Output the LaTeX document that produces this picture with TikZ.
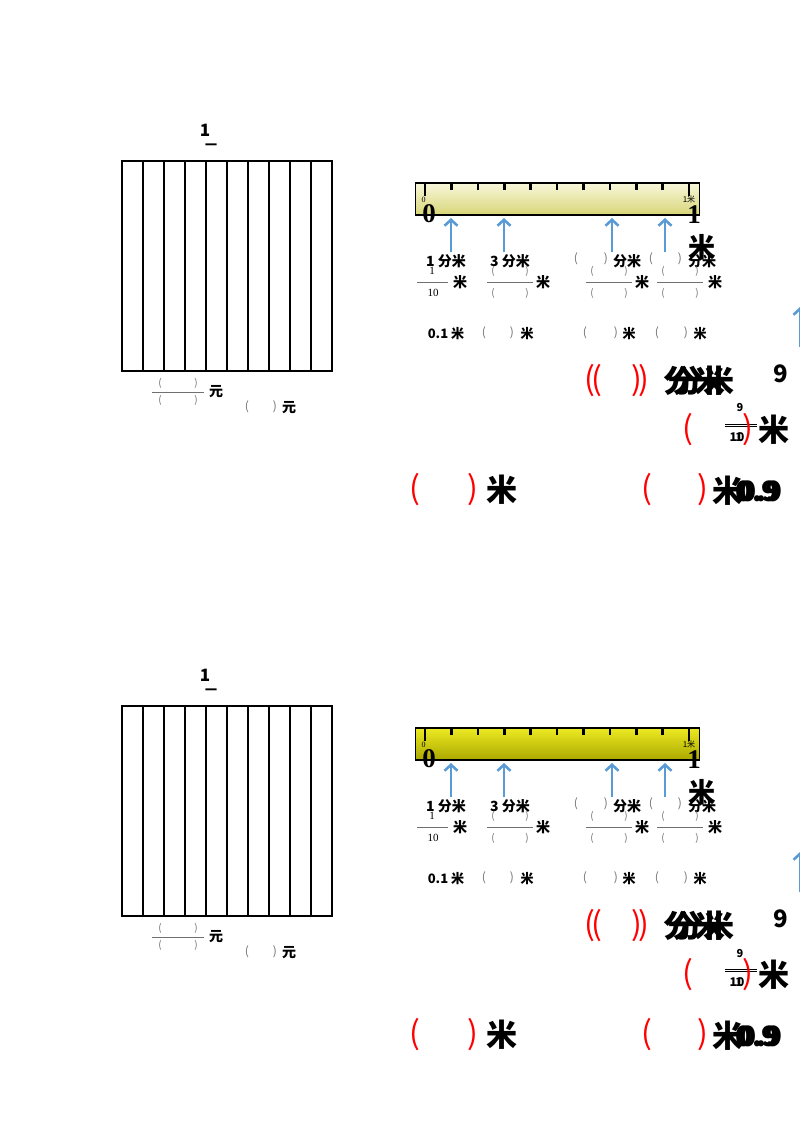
\documentclass[tikz,border=0pt]{standalone}
\usepackage{fontspec}
\newfontfamily\cjk{Noto Sans CJK SC}
\newfontfamily\sernum{Liberation Serif}
\usetikzlibrary{arrows.meta}
\definecolor{arrowblue}{HTML}{5B9BD5}
\definecolor{pgray}{HTML}{707070}
\definecolor{rtopA}{HTML}{F8F7DC}
\definecolor{rbotA}{HTML}{D8D676}
\definecolor{rtopB}{HTML}{ECEA22}
\definecolor{rbotB}{HTML}{ABA800}
\newcommand\fsz[1]{\fontsize{#1}{#1}\selectfont}
\tikzset{
 lb/.style={inner sep=0pt, font=\cjk\bfseries\fsz{14}},
 sm/.style={inner sep=0pt, font=\cjk\bfseries\fsz{13}},
 pg/.style={inner sep=0pt, font=\cjk\fsz{12}, text=pgray},
 fpg/.style={inner sep=0pt, font=\cjk\fsz{10}, text=pgray},
 bigt/.style={inner sep=0pt, font=\cjk\bfseries\fsz{31}},
 rp/.style={inner sep=0pt, font=\cjk\fsz{32}, text=red},
 fl/.style={draw=pgray, line width=0.9pt},
 uparr/.style={draw=arrowblue, line width=2.6pt, -{Straight Barb[length=6pt,width=13pt]}},
 tickmark/.style={line width=2.6pt},
}
\newcommand\panel[3]{%
 % money square
 \node[inner sep=0pt, font=\cjk\bfseries\fsz{17}] (#1one) at (205,130) {1};
 \node[inner sep=0pt, font=\cjk\bfseries\fsz{12}] (#1dash) at (211,147) {一};
 \draw[line width=2.2pt] (122,161) rectangle (332,371);
 \foreach \i in {1,...,9} {\draw[line width=1.1pt] ({122+21*\i},161) -- ({122+21*\i},371);}
 \node[fpg] (#1qa) at (160,383) {(};
 \node[fpg] (#1qb) at (196,383) {)};
 \draw[fl] (152,392) -- (204,392);
 \node[fpg] (#1qc) at (160,400) {(};
 \node[fpg] (#1qd) at (196,400) {)};
 \node[lb] (#1yuan) at (216,392) {元};
 \node[pg] (#1qe) at (247,407) {(};
 \node[pg] (#1qf) at (275,407) {)};
 \node[lb] (#1yuanb) at (289,408) {元};
 % ruler
 \node[draw, line width=1.6pt, minimum width=284pt, minimum height=32pt, inner sep=0pt,
   top color=#2, bottom color=#3] (#1ruler) at (557.5,199) {};
 \foreach \i in {1,...,9} {\draw[tickmark] ({425+26.4*\i},184) -- ++(0,6);}
 \draw[tickmark] (425,184) -- ++(0,12);
 \draw[tickmark] (689,184) -- ++(0,12);
 \node[inner sep=0pt, font=\sernum\fsz{8}] (#1zs) at (423.5,200) {0};
 \node[inner sep=0pt, font=\cjk\fsz{8}] (#1ones) at (689,199) {1米};
 \node[inner sep=0pt, font=\sernum\bfseries\fsz{27}] (#1zero) at (429,214) {0};
 \node[inner sep=0pt, font=\sernum\bfseries\fsz{27}] (#1onebig) at (694,215) {1};
 \node[inner sep=0pt, font=\cjk\bfseries\fsz{27}] (#1mibig) at (702,247) {米};
 \foreach \x in {451,504,612,665} {
   \coordinate (#1s\x) at (\x,252);
   \coordinate (#1e\x) at (\x,218);
   \draw[uparr] (#1s\x) -- (#1e\x);
 }
 % row 1
 \node[lb] (#1la) at (446,261) {1 分米};
 \node[lb] (#1lb) at (510,261) {3 分米};
 \node[pg] (#1lc1) at (576,259) {(};
 \node[pg] (#1lc2) at (606,259) {)};
 \node[lb] (#1lc) at (627,261) {分米};
 \node[pg] (#1ld1) at (651,259) {(};
 \node[pg] (#1ld2) at (680,259) {)};
 \node[lb] (#1ld) at (702,261) {分米};
 % row 2 fractions
 \node[inner sep=0pt, font=\sernum\fsz{11}] (#1fn) at (432,271) {1};
 \draw[fl] (417,282) -- (448,282);
 \node[inner sep=0pt, font=\sernum\fsz{11}] (#1fd) at (433,293) {10};
 \node[lb] (#1fm) at (460,282) {米};
 \foreach \c/\m [count=\k] in {510/543, 609/642, 680/715} {
   \node[fpg] (#1fa\k) at (\c-17,271) {(};
   \node[fpg] (#1fb\k) at (\c+17,271) {)};
   \draw[fl] (\c-23,282) -- (\c+23,282);
   \node[fpg] (#1fc\k) at (\c-17,293) {(};
   \node[fpg] (#1fe\k) at (\c+17,293) {)};
   \node[lb] (#1fmi\k) at (\m,282) {米};
 }
 % row 3
 \node[sm] (#1ra) at (446,334) {0.1 米};
 \foreach \a/\b/\m [count=\k] in {484/512/527, 585/616/629, 657/686/700} {
   \node[pg] (#1rp\k) at (\a,333) {(};
   \node[pg] (#1rq\k) at (\b,333) {)};
   \node[sm] (#1rm\k) at (\m,334) {米};
 }
 % red rows
 \node[rp] (#1ra1) at (590,381) {(};
 \node[rp] (#1ra2) at (597,381) {(};
 \node[rp] (#1rb1) at (637,381) {)};
 \node[rp] (#1rb2) at (644,381) {)};
 \node[bigt] (#1fen1) at (694,381) {分米};
 \node[bigt] (#1fen2) at (703,381) {分米};
 \node[bigt, font=\cjk\bfseries\fsz{24}] (#1nine) at (781,374) {9};
 \node[rp] (#1rc1) at (688,430) {(};
 \node[inner sep=0pt, font=\cjk\bfseries\fsz{11}] (#1nn) at (740,408) {9};
 \draw[line width=0.9pt] (725,424) -- (757,424);
 \draw[line width=0.9pt] (725,426) -- (757,426);
 \node[inner sep=0pt, font=\cjk\bfseries\fsz{12}] (#1ten) at (737,437) {10};
 \node[inner sep=0pt, font=\cjk\bfseries\fsz{12}] (#1tenb) at (739,437) {1};
 \node[rp] (#1rc2) at (748,430) {)};
 \node[bigt] (#1mi2) at (774,430) {米};
 \node[rp] (#1rd1) at (415,490) {(};
 \node[rp] (#1rd2) at (473,490) {)};
 \node[bigt] (#1mi3) at (502,490) {米};
 \node[rp] (#1re1) at (647,490) {(};
 \node[rp] (#1re2) at (703,490) {)};
 \node[bigt] (#1mi4) at (728,491) {米};
 \node[inner sep=0pt, font=\cjk\bfseries\fsz{28}] (#1dec1) at (757,491) {0.9};
 \node[inner sep=0pt, font=\cjk\bfseries\fsz{28}] (#1dec2) at (761,491) {0.9};
 % partial arrow at right edge
 \coordinate (#1ps) at (800,347);
 \coordinate (#1pe) at (800,307);
 \draw[uparr] (#1ps) -- (#1pe);
}
\begin{document}
\begin{tikzpicture}[x=1pt,y=-1pt]
 \useasboundingbox (0,0) rectangle (800,1132);
 \panel{A}{rtopA}{rbotA}
 \begin{scope}[shift={(0,545)}]
  \panel{B}{rtopB}{rbotB}
 \end{scope}
\end{tikzpicture}
\end{document}
